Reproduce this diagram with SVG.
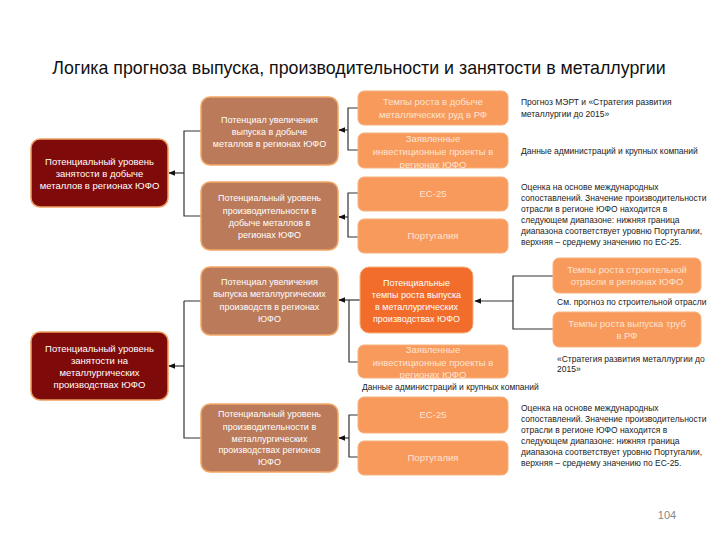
<svg xmlns="http://www.w3.org/2000/svg" width="720" height="540" viewBox="0 0 720 540">
<defs>
<marker id="arr" viewBox="0 0 10 10" refX="9" refY="5" markerWidth="7" markerHeight="7" markerUnits="userSpaceOnUse" orient="auto">
<path d="M0,1 L10,5 L0,9 Z" fill="#111"/>
</marker>
<style>
.lvl1{fill:#7f0a0a;stroke:#f0a062;stroke-width:1.5}
.lvl2{fill:#bb7a5a;stroke:#f3a866;stroke-width:1.5}
.lvl3{fill:#f89a5c;stroke:#f8b17e;stroke-width:1}
.lvl3d{fill:#f26d2b;stroke:#f8b17e;stroke-width:1}
.nt{font-family:"Liberation Sans",Arial,sans-serif;font-size:9px;fill:#fff;text-anchor:middle}
.nt1{font-family:"Liberation Sans",Arial,sans-serif;font-size:9.5px;fill:#fff;text-anchor:middle}
.nt3{font-family:"Liberation Sans",Arial,sans-serif;font-size:9.5px;fill:#fde4d2;text-anchor:middle}
.note{font-family:"Liberation Sans",Arial,sans-serif;font-size:8.5px;fill:#222}
.conn{fill:none;stroke:#333;stroke-width:1.2}
.title{font-family:"Liberation Sans",Arial,sans-serif;font-size:17.8px;fill:#111;text-anchor:middle}
</style>
</defs>
<rect width="720" height="540" fill="#fff"/>
<text class="title" x="359" y="74">Логика прогноза выпуска, производительности и занятости в металлургии</text>

<g id="connectors">
<path class="conn" d="M201,131 H184 V216 H201"/>
<path class="conn" d="M184,173 H169" marker-end="url(#arr)"/>
<path class="conn" d="M358,108 H348 V150 H358"/>
<path class="conn" d="M348,130 H339" marker-end="url(#arr)"/>
<path class="conn" d="M358,193 H348 V237 H358"/>
<path class="conn" d="M348,217 H339" marker-end="url(#arr)"/>
<path class="conn" d="M184,301 H201 M184,301 V438 H201"/>
<path class="conn" d="M184,366 H169" marker-end="url(#arr)"/>
<path class="conn" d="M360,300 H339" marker-end="url(#arr)"/>
<path class="conn" d="M349,300 V362 H358"/>
<path class="conn" d="M358,415 H349 V457 H358"/>
<path class="conn" d="M349,438 H339" marker-end="url(#arr)"/>
<path class="conn" d="M553,276 H513 V329 H553"/>
<path class="conn" d="M513,301 H475" marker-end="url(#arr)"/>
</g>

<g id="n-zan-dob">
<rect class="lvl1" x="31" y="139" width="137" height="68" rx="9"/>
<text class="nt1" x="99.5" y="165">Потенциальный уровень</text>
<text class="nt1" x="99.5" y="177">занятости в добыче</text>
<text class="nt1" x="99.5" y="188.5">металлов в регионах ЮФО</text>
</g>
<g id="n-zan-met">
<rect class="lvl1" x="31" y="332" width="137" height="68" rx="9"/>
<text class="nt1" x="99.5" y="352">Потенциальный уровень</text>
<text class="nt1" x="99.5" y="364">занятости на</text>
<text class="nt1" x="99.5" y="376">металлургических</text>
<text class="nt1" x="99.5" y="388">производствах ЮФО</text>
</g>

<g id="n-vyp-dob">
<rect class="lvl2" x="201" y="97" width="137" height="68" rx="9"/>
<text class="nt" x="269.5" y="123">Потенциал увеличения</text>
<text class="nt" x="269.5" y="135">выпуска в добыче</text>
<text class="nt" x="269.5" y="146.5">металлов в регионах ЮФО</text>
</g>
<g id="n-proizv-dob">
<rect class="lvl2" x="201" y="182" width="137" height="68" rx="9"/>
<text class="nt" x="269.5" y="201">Потенциальный уровень</text>
<text class="nt" x="269.5" y="214">производительности в</text>
<text class="nt" x="269.5" y="226">добыче металлов в</text>
<text class="nt" x="269.5" y="237.5">регионах ЮФО</text>
</g>
<g id="n-vyp-met">
<rect class="lvl2" x="201" y="267" width="137" height="68" rx="9"/>
<text class="nt" x="269.5" y="285">Потенциал увеличения</text>
<text class="nt" x="269.5" y="297">выпуска металлургических</text>
<text class="nt" x="269.5" y="310">производств в регионах</text>
<text class="nt" x="269.5" y="321.5">ЮФО</text>
</g>
<g id="n-proizv-met">
<rect class="lvl2" x="201" y="404" width="137" height="68" rx="9"/>
<text class="nt" x="269.5" y="417">Потенциальный уровень</text>
<text class="nt" x="269.5" y="430">производительности в</text>
<text class="nt" x="269.5" y="441.5">металлургических</text>
<text class="nt" x="269.5" y="453">производствах регионов</text>
<text class="nt" x="269.5" y="465">ЮФО</text>
</g>

<g id="n-tempy-dob">
<rect class="lvl3" x="358" y="91" width="150" height="34" rx="6"/>
<text class="nt3" x="433" y="105">Темпы роста в добыче</text>
<text class="nt3" x="433" y="118">металлических руд в РФ</text>
</g>
<g id="n-invest-1">
<rect class="lvl3" x="358" y="133" width="150" height="35" rx="6"/>
<text class="nt3" x="433" y="142">Заявленные</text>
<text class="nt3" x="433" y="155">инвестиционные проекты в</text>
<text class="nt3" x="433" y="167.5">регионах ЮФО</text>
</g>
<g id="n-ec25-1">
<rect class="lvl3" x="358" y="177" width="150" height="34" rx="6"/>
<text class="nt3" x="433" y="197">ЕС-25</text>
</g>
<g id="n-port-1">
<rect class="lvl3" x="358" y="219" width="150" height="34" rx="6"/>
<text class="nt3" x="433" y="239">Португалия</text>
</g>
<g id="n-tempy-met">
<rect class="lvl3d" x="360" y="267" width="113" height="66" rx="9"/>
<text class="nt" x="416.5" y="286">Потенциальные</text>
<text class="nt" x="416.5" y="298">темпы роста выпуска</text>
<text class="nt" x="416.5" y="310">в металлургических</text>
<text class="nt" x="416.5" y="322">производствах ЮФО</text>
</g>
<g id="n-invest-2">
<rect class="lvl3" x="358" y="345" width="150" height="33" rx="6"/>
<text class="nt3" x="433" y="353">Заявленные</text>
<text class="nt3" x="433" y="366">инвестиционные проекты в</text>
<text class="nt3" x="433" y="378">регионах ЮФО</text>
</g>
<g id="n-ec25-2">
<rect class="lvl3" x="358" y="397" width="150" height="36" rx="6"/>
<text class="nt3" x="433" y="418">ЕС-25</text>
</g>
<g id="n-port-2">
<rect class="lvl3" x="358" y="441" width="150" height="34" rx="6"/>
<text class="nt3" x="433" y="461">Португалия</text>
</g>
<g id="n-stroit">
<rect class="lvl3" x="553" y="258" width="148" height="35" rx="6"/>
<text class="nt3" x="627" y="273">Темпы роста строительной</text>
<text class="nt3" x="627" y="285">отрасли в регионах ЮФО</text>
</g>
<g id="n-truby">
<rect class="lvl3" x="553" y="312" width="148" height="35" rx="6"/>
<text class="nt3" x="627" y="327">Темпы роста выпуска труб</text>
<text class="nt3" x="627" y="339">в РФ</text>
</g>

<g id="notes">
<text class="note" x="521" y="105">Прогноз МЭРТ и «Стратегия развития</text>
<text class="note" x="521" y="117">металлургии до 2015»</text>
<text class="note" x="521" y="154">Данные администраций и крупных компаний</text>
<text class="note" x="521" y="190">Оценка на основе международных</text>
<text class="note" x="521" y="201">сопоставлений. Значение производительности</text>
<text class="note" x="521" y="212">отрасли в регионе ЮФО находится в</text>
<text class="note" x="521" y="223">следующем диапазоне: нижняя граница</text>
<text class="note" x="521" y="234">диапазона соответствует уровню Португалии,</text>
<text class="note" x="521" y="245">верхняя – среднему значению по ЕС-25.</text>
<text class="note" x="557" y="305">См. прогноз по строительной отрасли</text>
<text class="note" x="557" y="362">«Стратегия развития металлургии до</text>
<text class="note" x="557" y="372">2015»</text>
<text class="note" x="362" y="390">Данные администраций и крупных компаний</text>
<text class="note" x="521" y="411">Оценка на основе международных</text>
<text class="note" x="521" y="422">сопоставлений. Значение производительности</text>
<text class="note" x="521" y="433">отрасли в регионе ЮФО находится в</text>
<text class="note" x="521" y="444">следующем диапазоне: нижняя граница</text>
<text class="note" x="521" y="455">диапазона соответствует уровню Португалии,</text>
<text class="note" x="521" y="466">верхняя – среднему значению по ЕС-25.</text>
<text x="667" y="519" font-family="Liberation Sans, Arial, sans-serif" font-size="11" fill="#888" text-anchor="middle">104</text>
</g>
</svg>
